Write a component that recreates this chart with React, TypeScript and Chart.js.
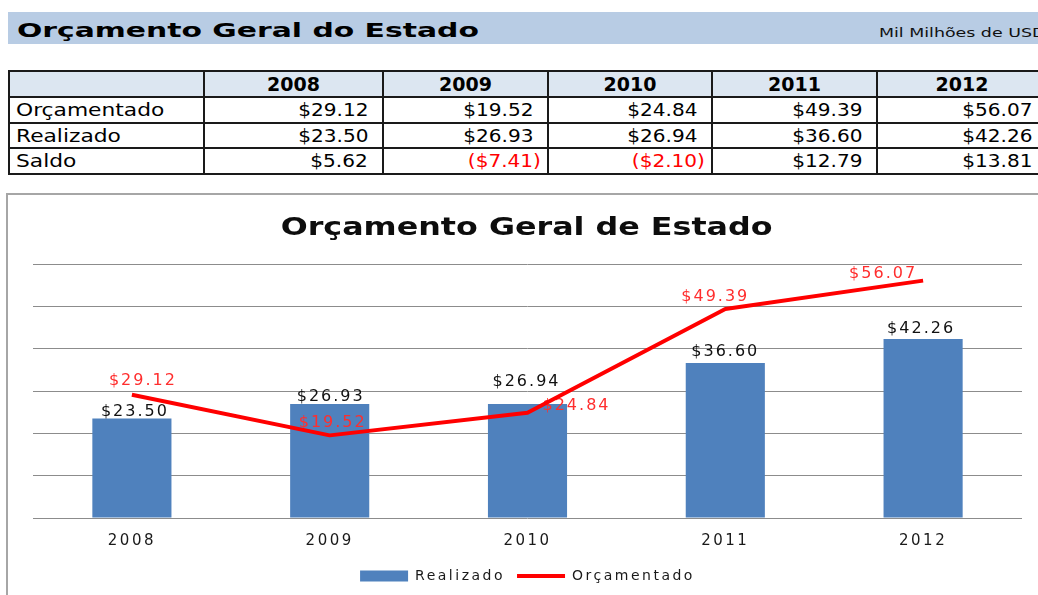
import React, { useEffect, useRef } from 'react';
import { Chart, registerables } from 'chart.js';

Chart.register(...registerables);

// ---- data ----
const years = ['2008', '2009', '2010', '2011', '2012'];
const orcamentado = [29.12, 19.52, 24.84, 49.39, 56.07];
const realizado = [23.5, 26.93, 26.94, 36.6, 42.26];
const saldo = [5.62, -7.41, -2.1, 12.79, 13.81];
const rowLabels = ['Orçamentado', 'Realizado', 'Saldo'];
const yMin = 0;
const yMax = 60;
const yStep = 10;

// manual label placement (dx, dy from the mark), like the original sheet
const realizadoLabelOffsets = [[3, -7], [1, -7], [-1, -22], [0, -11], [-2, -10]];
const orcamentadoLabelOffsets = [[11, -14], [3, -13], [49, -7], [-10, -12], [-40, -7]];

const money = (v: number) => (v < 0 ? `($${Math.abs(v).toFixed(2)})` : `$${v.toFixed(2)}`);

const FONT = '"DejaVu Sans", Verdana, sans-serif';

const spacingPlugin = {
  id: 'letterSpacing',
  beforeLayout(chart: any) {
    (chart.ctx as any).letterSpacing = '2.5px';
  },
  beforeDraw(chart: any) {
    (chart.ctx as any).letterSpacing = '2.5px';
  },
};

const labelPlugin = {
  id: 'valueLabels',
  afterDatasetDraw(chart: any, args: any) {
    if (args.index !== 0) return;
    const ctx = chart.ctx as any;
    ctx.save();
    ctx.font = `16px ${FONT}`;
    ctx.letterSpacing = '2px';
    ctx.textAlign = 'center';
    ctx.textBaseline = 'middle';
    const barMeta = chart.getDatasetMeta(0);
    barMeta.data.forEach((el: any, i: number) => {
      const { x, y } = el.getProps(['x', 'y'], true);
      const [dx, dy] = realizadoLabelOffsets[i];
      ctx.fillStyle = '#111111';
      ctx.fillText(money(realizado[i]), x + dx, y + dy);
    });
    const lineMeta = chart.getDatasetMeta(1);
    lineMeta.data.forEach((el: any, i: number) => {
      const { x, y } = el.getProps(['x', 'y'], true);
      const [dx, dy] = orcamentadoLabelOffsets[i];
      ctx.fillStyle = '#ff2e2e';
      ctx.fillText(money(orcamentado[i]), x + dx, y + dy);
    });
    ctx.restore();
  },
};

function BudgetChart() {
  const ref = useRef<HTMLCanvasElement>(null);
  useEffect(() => {
    const canvas = ref.current as HTMLCanvasElement;
    const chart = new Chart(canvas, {
      type: 'bar',
      data: {
        labels: years,
        datasets: [
          {
            type: 'bar',
            label: 'Realizado',
            data: realizado,
            backgroundColor: '#4f81bd',
            barPercentage: 0.4,
            categoryPercentage: 1,
            order: 1,
          } as any,
          {
            type: 'line',
            label: 'Orçamentado',
            data: orcamentado,
            borderColor: '#ff0000',
            backgroundColor: '#ff0000',
            borderWidth: 4,
            pointRadius: 0,
            pointHoverRadius: 0,
            tension: 0,
            borderJoinStyle: 'round',
            order: 0,
          } as any,
        ],
      },
      options: {
        animation: false,
        responsive: false,
        devicePixelRatio: 1,
        layout: { padding: { left: 25, right: 14, top: 68, bottom: 2 } },
        plugins: {
          title: { display: false },
          tooltip: { enabled: false },
          legend: {
            position: 'bottom',
            labels: {
              font: { family: FONT, size: 14 },
              color: '#1a1a1a',
              usePointStyle: true,
              pointStyleWidth: 48,
              boxHeight: 11,
              padding: 12,
              generateLabels: () => [
                {
                  text: 'Realizado',
                  fillStyle: '#4f81bd',
                  strokeStyle: '#4f81bd',
                  lineWidth: 0,
                  pointStyle: 'rect',
                  datasetIndex: 0,
                  hidden: false,
                  fontColor: '#1a1a1a',
                },
                {
                  text: 'Orçamentado',
                  fillStyle: '#ff0000',
                  strokeStyle: '#ff0000',
                  lineWidth: 4,
                  pointStyle: 'line',
                  datasetIndex: 1,
                  hidden: false,
                  fontColor: '#1a1a1a',
                },
              ],
            },
          },
        },
        scales: {
          x: {
            grid: { display: false, drawTicks: false },
            border: { display: false },
            ticks: { font: { family: FONT, size: 15 }, color: '#1a1a1a', padding: 14 },
            afterFit: (s: any) => {
              s.height = 39;
            },
          },
          y: {
            min: yMin,
            max: yMax,
            ticks: { stepSize: yStep, display: false },
            grid: { color: '#8c8c8c', lineWidth: 1, drawTicks: false },
            border: { display: false },
          },
        },
      } as any,
      plugins: [spacingPlugin, labelPlugin],
    });
    return () => chart.destroy();
  }, []);
  return (
    <canvas
      ref={ref}
      width={1028}
      height={399}
      style={{ position: 'absolute', left: 8, top: 196, display: 'block' }}
    />
  );
}

const colWidths = [195, 179, 165, 164, 165, 170];
const rowHeights = [26, 26, 25, 26];
const cellBorder = '2px solid #1a1a1a';

function DataTable() {
  const cell: React.CSSProperties = {
    border: cellBorder,
    padding: 0,
    lineHeight: '1',
    whiteSpace: 'nowrap',
    overflow: 'hidden',
    color: '#000',
  };
  const series = [orcamentado, realizado, saldo];
  return (
    <table
      style={{
        position: 'absolute',
        left: 8,
        top: 70,
        borderCollapse: 'collapse',
        tableLayout: 'fixed',
        width: colWidths.reduce((a, b) => a + b, 0),
      }}
    >
      <colgroup>
        {colWidths.map((w, i) => (
          <col key={i} style={{ width: w }} />
        ))}
      </colgroup>
      <tbody>
        <tr style={{ height: rowHeights[0], background: '#dce6f1' }}>
          <td style={cell} />
          {years.map((y) => (
            <td key={y} style={{ ...cell, textAlign: 'center', font: `bold 19px ${FONT}` }}>
              {y}
            </td>
          ))}
        </tr>
        {rowLabels.map((lbl, r) => (
          <tr key={lbl} style={{ height: rowHeights[r + 1] }}>
            <td style={{ ...cell, paddingLeft: 6 }}>
              <span
                style={{
                  display: 'inline-block',
                  font: `17px ${FONT}`,
                  transform: 'scaleX(1.28)',
                  transformOrigin: 'left center',
                }}
              >
                {lbl}
              </span>
            </td>
            {series[r].map((v, c) => (
              <td
                key={c}
                style={{ ...cell, textAlign: 'right', paddingRight: v < 0 ? 6 : 14 }}
              >
                <span
                  style={{
                    display: 'inline-block',
                    font: `17px ${FONT}`,
                    color: v < 0 ? '#ff0000' : '#000',
                    transform: 'scaleX(1.18)',
                    transformOrigin: 'right center',
                  }}
                >
                  {money(v)}
                </span>
              </td>
            ))}
          </tr>
        ))}
      </tbody>
    </table>
  );
}

export default function App() {
  return (
    <div
      style={{
        position: 'absolute',
        left: 0,
        top: 0,
        width: 1038,
        height: 595,
        overflow: 'hidden',
        background: '#fff',
      }}
    >
      {/* header bar */}
      <div
        style={{
          position: 'absolute',
          left: 8,
          top: 12,
          width: 1040,
          height: 32,
          background: '#b8cce4',
        }}
      />
      <div
        style={{
          position: 'absolute',
          left: 17,
          top: 20,
          font: `bold 20px ${FONT}`,
          lineHeight: '20px',
          whiteSpace: 'nowrap',
          transform: 'scaleX(1.49)',
          transformOrigin: 'left center',
          color: '#000',
        }}
      >
        Orçamento Geral do Estado
      </div>
      <div
        style={{
          position: 'absolute',
          left: 879,
          top: 27,
          font: `12px ${FONT}`,
          lineHeight: '12px',
          whiteSpace: 'nowrap',
          transform: 'scaleX(1.45)',
          transformOrigin: 'left center',
          color: '#111',
        }}
      >
        Mil Milhões de USD
      </div>

      <DataTable />

      {/* chart frame */}
      <div
        style={{
          position: 'absolute',
          left: 6,
          top: 193,
          width: 1040,
          height: 420,
          border: '2px solid #a6a6a6',
          boxSizing: 'border-box',
          background: '#fff',
        }}
      />
      <BudgetChart />
      <div
        style={{
          position: 'absolute',
          left: 0,
          top: 214,
          width: 1054,
          textAlign: 'center',
          whiteSpace: 'nowrap',
        }}
      >
        <span
          style={{
            display: 'inline-block',
            font: `bold 25px ${FONT}`,
            lineHeight: '25px',
            transform: 'scaleX(1.27)',
            transformOrigin: 'center center',
            color: '#0d0d0d',
          }}
        >
          Orçamento Geral de Estado
        </span>
      </div>
    </div>
  );
}
